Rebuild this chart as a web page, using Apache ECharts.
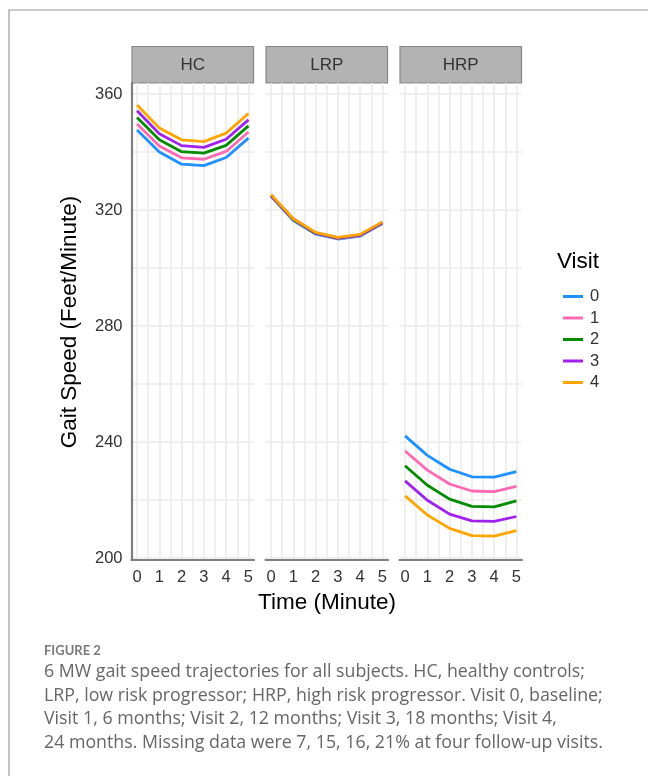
<!DOCTYPE html>
<html><head><meta charset="utf-8">
<script src="https://cdn.jsdelivr.net/npm/echarts@6/dist/echarts.min.js"></script>
<style>html,body{margin:0;padding:0;background:#fff}#c{width:648px;height:776px}</style>
</head><body><div id="c"></div><script>
// ---- data ----
const panels = ['HC', 'LRP', 'HRP'];
const visits = ['0', '1', '2', '3', '4'];
const times = [0, 1, 2, 3, 4, 5];
const xTickLabels = [0, 1, 2, 3, 4, 5];
const xGridValues = [0, 0.5, 1, 1.5, 2, 2.5, 3, 3.5, 4, 4.5, 5];
const yTickLabels = [200, 240, 280, 320, 360];
const yGridValues = [200, 220, 240, 260, 280, 300, 320, 340, 360];

const hcVisit0 = [347.6, 340.0, 335.8, 335.3, 338.1, 344.8];
const hcVisit1 = [349.7, 342.1, 338.0, 337.5, 340.2, 346.9];
const hcVisit2 = [351.9, 344.2, 340.1, 339.6, 342.3, 349.0];
const hcVisit3 = [354.2, 346.3, 342.2, 341.6, 344.4, 351.1];
const hcVisit4 = [356.2, 348.3, 344.2, 343.6, 346.5, 353.3];

const lrpVisit0 = [324.7, 316.4, 311.7, 310.0, 311.0, 315.3];
const lrpVisit1 = [324.8, 316.6, 311.9, 310.1, 311.2, 315.4];
const lrpVisit2 = [325.0, 316.7, 312.0, 310.3, 311.3, 315.6];
const lrpVisit3 = [325.1, 316.9, 312.1, 310.4, 311.4, 315.7];
const lrpVisit4 = [325.3, 317.0, 312.3, 310.6, 311.6, 315.9];

const hrpVisit0 = [242.1, 235.4, 230.6, 228.0, 227.9, 229.8];
const hrpVisit1 = [236.9, 230.3, 225.5, 223.1, 222.9, 224.7];
const hrpVisit2 = [231.8, 225.1, 220.3, 217.8, 217.6, 219.7];
const hrpVisit3 = [226.6, 219.9, 215.1, 212.8, 212.6, 214.3];
const hrpVisit4 = [221.4, 214.8, 210.2, 207.7, 207.5, 209.4];

const panelData = [
  [hcVisit0, hcVisit1, hcVisit2, hcVisit3, hcVisit4],
  [lrpVisit0, lrpVisit1, lrpVisit2, lrpVisit3, lrpVisit4],
  [hrpVisit0, hrpVisit1, hrpVisit2, hrpVisit3, hrpVisit4]
];
const visitColors = ['#1E90FF', '#FF69B4', '#008B00', '#A020F0', '#FFA500'];

const captionTitle = 'FIGURE 2';
const captionLines = [
  '6 MW gait speed trajectories for all subjects. HC, healthy controls;',
  'LRP, low risk progressor; HRP, high risk progressor. Visit 0, baseline;',
  'Visit 1, 6 months; Visit 2, 12 months; Visit 3, 18 months; Visit 4,',
  '24 months. Missing data were 7, 15, 16, 21% at four follow-up visits.'
];

// ---- layout ----
const FONT = 'Liberation Sans';
const panelLeft = [131.5, 265.5, 399.5];
const panelW = 122.5;
const panelTop = 83;
const panelH = 477;
const stripTop = 46.5;
const stripH = 36.5;

const grids = [], xAxes = [], yAxes = [], series = [], graphics = [];
panels.forEach((p, i) => {
  grids.push({left: panelLeft[i], top: panelTop, width: panelW, height: panelH, containLabel: false});
  xAxes.push({
    gridIndex: i, type: 'value', min: -0.25, max: 5.25,
    axisLine: {show: true, onZero: false, lineStyle: {color: '#7f7f7f', width: 2.2}},
    axisTick: {show: false, customValues: xGridValues},
    axisLabel: {customValues: xTickLabels, color: '#333', fontSize: 16.5, fontFamily: FONT, margin: 9},
    splitLine: {show: true, lineStyle: {color: '#ebebeb', width: 1.6}}
  });
  yAxes.push({
    gridIndex: i, type: 'value', min: 199.3, max: 363.8,
    axisLine: {show: i === 0, onZero: false, lineStyle: {color: '#7f7f7f', width: 2.2}},
    axisTick: {show: false, customValues: yGridValues},
    axisLabel: {show: i === 0, customValues: yTickLabels, color: '#333', fontSize: 16.5, fontFamily: FONT, margin: 9},
    splitLine: {show: true, lineStyle: {color: '#ebebeb', width: 1.6}}
  });
  visits.forEach((v, k) => {
    series.push({
      name: v, type: 'line', xAxisIndex: i, yAxisIndex: i,
      data: times.map((t, j) => [t, panelData[i][k][j]]),
      showSymbol: false, symbol: 'none', smooth: false,
      lineStyle: {color: visitColors[k], width: 2.8},
      itemStyle: {color: visitColors[k]},
      emphasis: {disabled: true}, silent: true, animation: false
    });
  });
  graphics.push({
    type: 'rect', shape: {x: panelLeft[i] + 0.5, y: stripTop, width: panelW - 1, height: stripH},
    style: {fill: '#b3b3b3', stroke: '#858585', lineWidth: 1.2}
  });
  graphics.push({
    type: 'text', x: panelLeft[i] + panelW / 2, y: stripTop + stripH / 2 + 0.5,
    style: {text: p, fill: '#333', fontSize: 17, fontFamily: FONT, align: 'center', verticalAlign: 'middle'}
  });
});

// frame
graphics.push({type: 'polyline', shape: {points: [[9, 800], [9, 10], [660, 10]]}, style: {stroke: '#9a9a9a', lineWidth: 1.2, fill: null}});
// axis titles
graphics.push({type: 'text', x: 70, y: 322, rotation: Math.PI / 2,
  style: {text: 'Gait Speed (Feet/Minute)', fill: '#000', fontSize: 22.5, fontFamily: FONT, align: 'center', verticalAlign: 'middle'}});
graphics.push({type: 'text', x: 327, y: 603,
  style: {text: 'Time (Minute)', fill: '#000', fontSize: 22.5, fontFamily: FONT, align: 'center', verticalAlign: 'middle'}});
// legend title
graphics.push({type: 'text', x: 557, y: 262,
  style: {text: 'Visit', fill: '#000', fontSize: 22.5, fontFamily: FONT, align: 'left', verticalAlign: 'middle'}});
// caption
graphics.push({type: 'text', x: 44, y: 651,
  style: {text: captionTitle, fill: '#7a7a7a', fontSize: 13, fontFamily: 'Lato', fontWeight: 'bold', align: 'left', verticalAlign: 'middle'}});
captionLines.forEach((t, i) => {
  graphics.push({type: 'text', x: 44, y: 672 + i * 23.7,
    style: {text: t, fill: '#666', fontSize: 17.8, fontFamily: 'Open Sans', align: 'left', verticalAlign: 'middle'}});
});

const chart = echarts.init(document.getElementById('c'), null, {renderer: 'canvas'});
chart.setOption({
  animation: false,
  backgroundColor: '#fff',
  grid: grids, xAxis: xAxes, yAxis: yAxes, series: series,
  legend: {
    data: visits, orient: 'vertical', left: 558, top: 283,
    icon: 'rect', itemWidth: 20, itemHeight: 3, itemGap: 4.5,
    textStyle: {fontSize: 16.5, fontFamily: FONT, color: '#333', padding: [0, 0, 0, 2]},
    selectedMode: false
  },
  graphic: graphics
});
</script></body></html>
